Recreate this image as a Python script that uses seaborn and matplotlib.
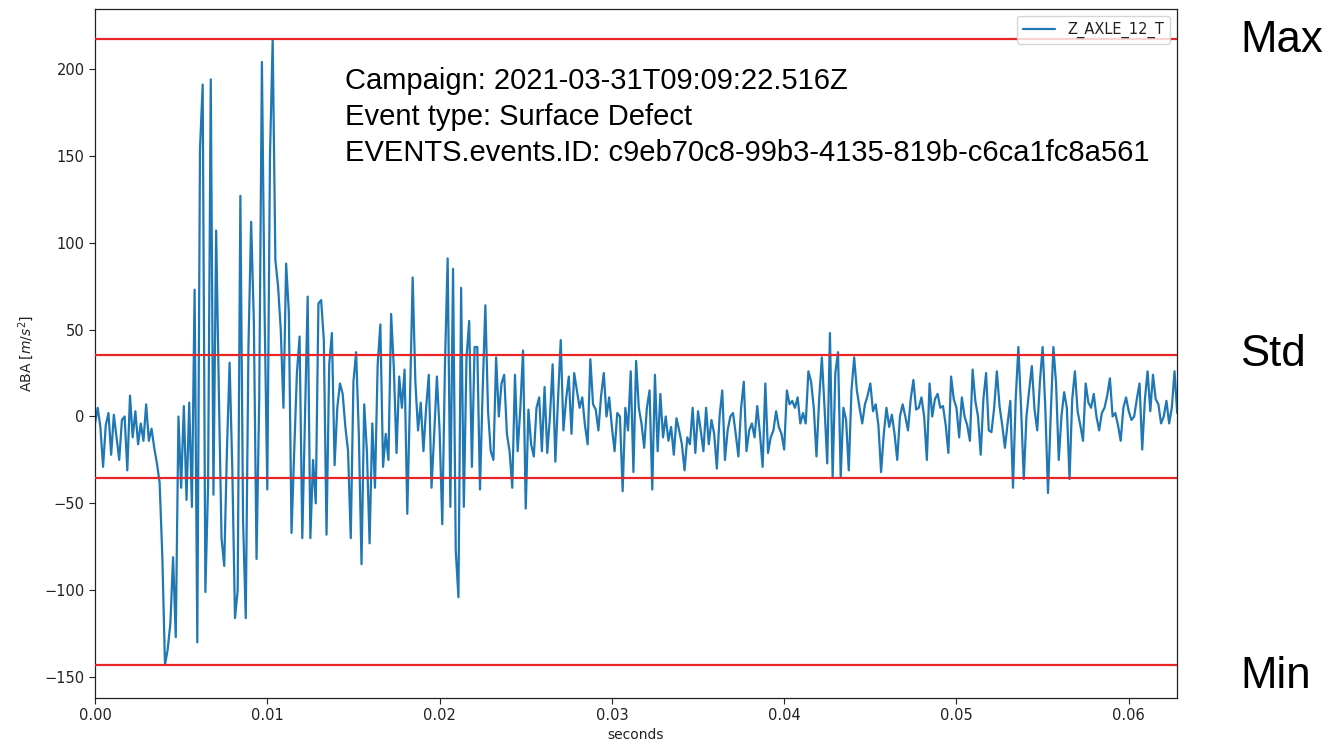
import numpy as np
import pandas as pd
import matplotlib
matplotlib.use("Agg")
import matplotlib.pyplot as plt
import seaborn as sns

# ---------------- data ----------------
FS = 6400.0  # samples per second (x axis spacing)
series_name = "Z_AXLE_12_T"
campaign = "2021-03-31T09:09:22.516Z"
event_type = "Surface Defect"
event_id = "c9eb70c8-99b3-4135-819b-c6ca1fc8a561"
std_level = 35.4

seg1 = [-4, 5, -6, -29, -5, 2, -22, 1, -12, -25, -2, 0, -31, 12, -12, 3,
        -16, -4, -14, 7, -14, -7, -18, -27, -38, -80, -143, -134, -119, -81, -127, 0,
        -41, 6, -48, 8, -52, 73, -130, 154, 191, -101, -40, 194, -45, 107,
        15, -70, -86, -20, 31, -30, -116, -100, 127, -60, -116, 40, 112, 55,
        -82, 10, 204, 60]
seg2 = [-42, 150, 217, 90, 75, 50, 5, 88, 60, -67, -20, 25, 46, -70, 0, 69,
        -70, -25, -50, 65, 67, 44, -68, 30, 48, -28, 5, 19, 13, -6, -20, -70,
        20, 37, -10, -85, 7, -20, -73, -4, -41, 30, 53, -29, -10, -25, 59, 28,
        -21, 23, 5, 27, -56, 10, 80, 20, -8, 8, -20, 5, 24, -41, -10, 23]
seg3 = [-8, -62, 30, 91, -52, 85, -77, -104, 74, -52, 34, 55, -29, 40, 40, -42,
        15, 64, 3, -20, -25, 34, 0, 19, 24, -10, -20, -41, 24, -20, 5, 38,
        -53, 4, -16, -23, 5, 11, -20, 17, -21, 0, 30, -26, 10, 44, -8, 10,
        23, -10, 25, 15, 5, 11, -5, -16, 33, 7, 4, -8, 12, 25, 0, 11]
seg4 = [-6, -20, 2, 0, -43, 5, -8, 26, -32, 32, 5, -4, -18, 5, 15, -42,
        24, -20, 13, -12, 0, -14, -6, -22, -1, -8, -16, -31, -12, -16, 5, -21,
        3, -8, -20, 5, -16, -2, -10, -30, 0, 15, -25, -8, 0, 2, -10, -23,
        5, 20, -20, -8, -4, -12, 6, -10, -29, 19, -21, -12, -8, 3, -6, -10]
seg5 = [-19, 15, 7, 9, 5, 11, -4, 2, -4, 26, 20, 5, -23, 10, 34, 5,
        -27, 48, -35, 25, 37, -35, 5, -2, -31, 15, 34, 15, 5, -4, 7, 12,
        19, 3, 7, -5, -32, -10, 5, -6, 1, -10, -25, 0, 7, 0, -8, 10,
        21, 4, 5, 11, 0, -25, 19, 0, 10, 13, 5, 6, -5, -21, 23, 10]
seg6 = [5, -12, 11, 0, -5, -14, 27, 9, 0, -22, 10, 25, -8, -9, 5, 26,
        6, -5, -18, -4, 9, -41, 10, 40, 5, -36, 0, 15, 29, 4, -8, 20,
        40, 5, -44, 0, 40, 19, -25, 0, 14, 5, -36, 10, 26, 3, -5, -14,
        19, 8, 5, 13, 0, -8, 2, 5, 12, 22, 0, 2, -5, -14, 5, 11]
seg7 = [3, -2, 0, 10, 19, -19, 10, 26, 3, 24, 10, 7, -4, 0, 9, -4, 5, 26, 2]

signal = np.array(seg1 + seg2 + seg3 + seg4 + seg5 + seg6 + seg7, dtype=float)
seconds = np.arange(len(signal)) / FS

# ---------------- figure ----------------
sns.set_style("ticks")
plt.rcParams["font.family"] = ["DejaVu Sans"]

W, H = 1332, 744
fig = plt.figure(figsize=(W / 100, H / 100), dpi=100)
ax = fig.add_axes([95 / W, 1 - 698 / H, (1177 - 95) / W, (698 - 9) / H])

df = pd.DataFrame({"seconds": seconds, "ABA": signal})
sns.lineplot(data=df, x="seconds", y="ABA", ax=ax, color="#1f77b4",
             linewidth=1.6, label=series_name, zorder=2)

levels = [signal.max(), std_level, -std_level, signal.min()]
for lv in levels:
    ax.axhline(lv, color="#e8262a", linewidth=1.6, zorder=3)

ax.set_xlim(0, 0.0628)
ax.set_ylim(-162, 234.5)
ax.set_xticks([0.0, 0.01, 0.02, 0.03, 0.04, 0.05, 0.06])
ax.set_xticklabels(["0.00", "0.01", "0.02", "0.03", "0.04", "0.05", "0.06"])
ax.set_yticks([-150, -100, -50, 0, 50, 100, 150, 200])
ax.tick_params(labelsize=10.5, colors="#222222", length=4)
ax.set_xlabel("seconds", fontsize=10, color="#222222", labelpad=3)
ax.set_ylabel(r"ABA [$m/s^2$]", fontsize=10, color="#222222", labelpad=6)
for s in ax.spines.values():
    s.set_color("#222222")
    s.set_linewidth(0.9)

leg = ax.legend(loc="upper right", fontsize=10.5, frameon=True,
                handlelength=2.2, borderaxespad=0.5)
leg.get_frame().set_alpha(0.8)
for txt in leg.get_texts():
    txt.set_color("#222222")

info = ["Campaign: " + campaign,
        "Event type: " + event_type,
        "EVENTS.events.ID: " + event_id]
for k, line in enumerate(info):
    fig.text(345 / W, 1 - (89 + 36 * k) / H, line, fontsize=21, color="black",
             family=["Liberation Sans", "DejaVu Sans"], va="baseline", ha="left")

side = [("Max", 52), ("Std", 366), ("Min", 688)]
for lab, yb in side:
    fig.text(1240 / W, 1 - yb / H, lab, fontsize=31.5, color="black",
             family=["Liberation Sans", "DejaVu Sans"], va="baseline", ha="left")

fig.savefig("out.png", dpi=100, facecolor="white")
